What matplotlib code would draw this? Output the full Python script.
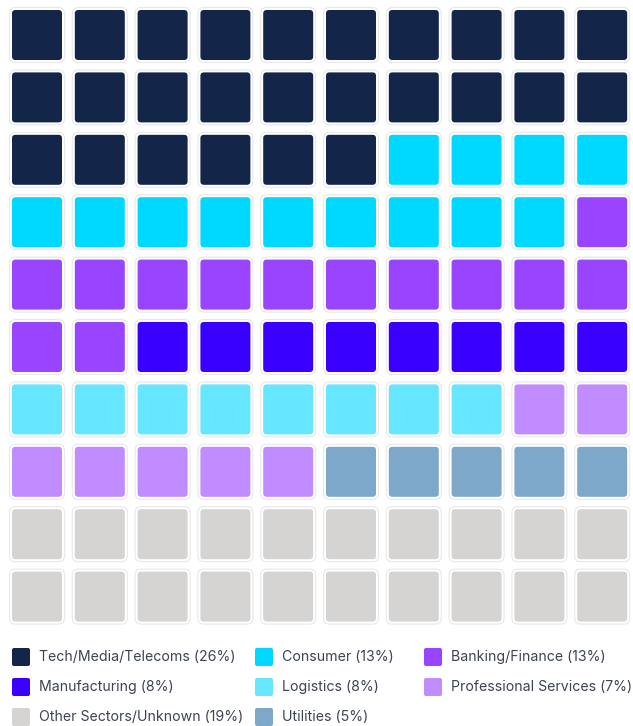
import matplotlib.pyplot as plt
from matplotlib.patches import FancyBboxPatch

sectors = ["Tech/Media/Telecoms", "Consumer", "Banking/Finance", "Manufacturing",
           "Logistics", "Professional Services", "Utilities", "Other Sectors/Unknown"]
squares = [26, 13, 13, 8, 8, 7, 5, 20]
percent = [26, 13, 13, 8, 8, 7, 5, 19]
colors = ["#13264a", "#00d9ff", "#9945ff", "#3a00ff",
          "#66e7ff", "#c08cff", "#7ea8c9", "#d6d4d2"]
legend_order = [0, 1, 2, 3, 4, 5, 7, 6]

W, H = 633, 726
fig = plt.figure(figsize=(W / 100, H / 100), dpi=100)
ax = fig.add_axes([0, 0, 1, 1])
ax.set_xlim(0, W)
ax.set_ylim(H, 0)
ax.axis("off")

# waffle grid, filled row by row
cells = []
for i, n in enumerate(squares):
    cells += [i] * n

size = 50
for k, c in enumerate(cells):
    row, col = divmod(k, 10)
    x = 12 + col * 62.8
    y = 10 + row * 62.4
    ax.add_patch(FancyBboxPatch((x, y), size, size,
                                boxstyle="round,pad=2.5,rounding_size=6",
                                fc="white", ec="#e8e8e8", lw=0.8))
    ax.add_patch(FancyBboxPatch((x, y), size, size,
                                boxstyle="round,pad=0,rounding_size=3.5",
                                fc=colors[c], ec="none"))

# legend, three columns
col_x = [12, 255, 424]
for j, i in enumerate(legend_order):
    r, cx = divmod(j, 3)
    x = col_x[cx]
    y = 657 + r * 30
    ax.add_patch(FancyBboxPatch((x, y - 9), 18, 18,
                                boxstyle="round,pad=0,rounding_size=2",
                                fc=colors[i], ec="none"))
    ax.text(x + 27, y, f"{sectors[i]} ({percent[i]}%)", va="center", ha="left",
            fontsize=10.2, color="#3d4452", family="Inter")

fig.savefig("out.png", dpi=100, facecolor="white")
